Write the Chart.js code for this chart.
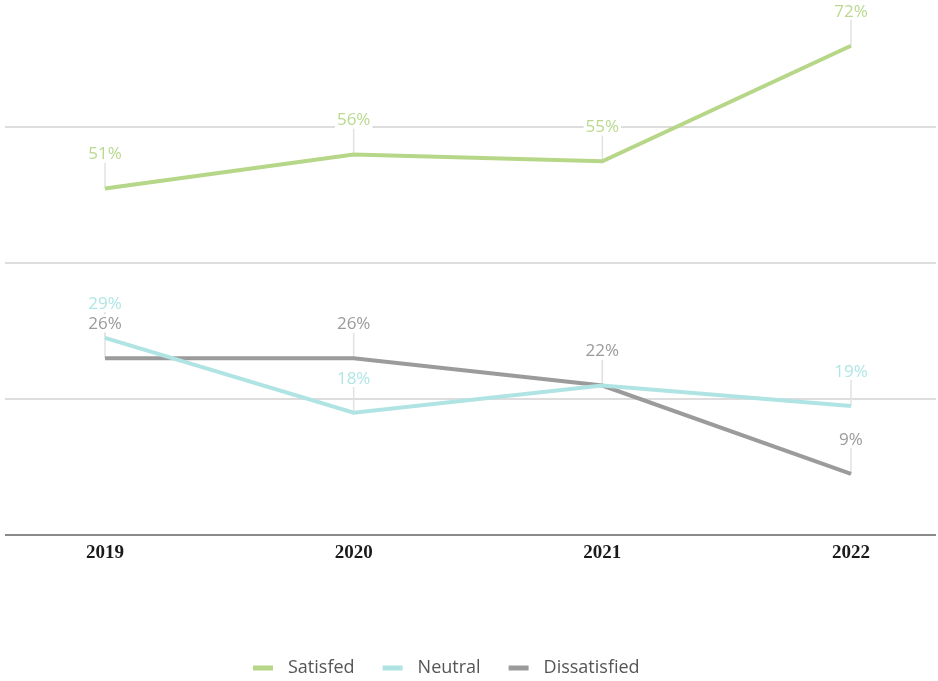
<!DOCTYPE html>
<html>
<head>
<meta charset="utf-8">
<script src="https://cdn.jsdelivr.net/npm/chart.js@4"></script>
<style>
  html, body { margin: 0; padding: 0; background: #fff; }
  #wrap { width: 938px; height: 681px; }
</style>
</head>
<body>
<div id="wrap"><canvas id="trend"></canvas></div>
<script>
const years = ['2019', '2020', '2021', '2022'];
const satisfied = [51, 56, 55, 72];
const neutral = [29, 18, 22, 19];
const dissatisfied = [26, 26, 22, 9];
const seriesNames = ['Satisfed', 'Neutral', 'Dissatisfied'];

// full-width horizontal rules every 20%, darker one at zero
const gridRules = {
    id: 'gridRules',
    beforeDatasetsDraw(chart) {
        const ctx = chart.ctx;
        const y = chart.scales.y;
        ctx.save();
        y.ticks.forEach(t => {
            if (t.value % 20 !== 0) return;
            const py = Math.round(y.getPixelForValue(t.value));
            ctx.beginPath();
            ctx.strokeStyle = t.value === 0 ? '#8a8a8a' : '#dddddd';
            ctx.lineWidth = 2;
            ctx.moveTo(5, py);
            ctx.lineTo(936, py);
            ctx.stroke();
        });
        // thin leader lines from each label down to its point
        chart.data.datasets.forEach((ds, i) => {
            chart.getDatasetMeta(i).data.forEach(pt => {
                ctx.beginPath();
                ctx.strokeStyle = '#e2e2e2';
                ctx.lineWidth = 1.5;
                ctx.moveTo(pt.x, pt.y - 26);
                ctx.lineTo(pt.x, pt.y);
                ctx.stroke();
            });
        });
        ctx.restore();
    }
};

const valueLabels = {
    id: 'valueLabels',
    afterDatasetsDraw(chart) {
        const ctx = chart.ctx;
        ctx.save();
        ctx.font = '17px "Open Sans"';
        ctx.textAlign = 'center';
        ctx.textBaseline = 'middle';
        chart.data.datasets.forEach((ds, i) => {
            chart.getDatasetMeta(i).data.forEach((pt, j) => {
                const txt = ds.data[j] + '%';
                const w = ctx.measureText(txt).width;
                const cy = pt.y - 35;
                ctx.fillStyle = '#ffffff';
                ctx.fillRect(pt.x - w / 2 - 2, cy - 9, w + 4, 18);
                ctx.fillStyle = ds.labelColor;
                ctx.fillText(txt, pt.x, cy + 1);
            });
        });
        ctx.restore();
    }
};

const bottomLegend = {
    id: 'bottomLegend',
    afterDraw(chart) {
        const ctx = chart.ctx;
        ctx.save();
        ctx.font = '18px "Open Sans"';
        ctx.textBaseline = 'middle';
        let x = 253;
        const y = 668;
        chart.data.datasets.forEach(ds => {
            ctx.fillStyle = ds.borderColor;
            ctx.fillRect(x, y - 2.5, 20, 5);
            x += 35;
            ctx.fillStyle = '#555555';
            ctx.fillText(ds.label, x, y);
            x += ctx.measureText(ds.label).width + 28;
        });
        ctx.restore();
    }
};

new Chart(document.getElementById('trend'), {
    type: 'line',
    data: {
        labels: years,
        datasets: [
            { label: seriesNames[0], data: satisfied, borderColor: '#b6d688', labelColor: '#b9d98f' },
            { label: seriesNames[1], data: neutral, borderColor: '#b0e4e4', labelColor: '#b0e6e6' },
            { label: seriesNames[2], data: dissatisfied, borderColor: '#9b9b9b', labelColor: '#9a9a9a' }
        ].map(d => Object.assign(d, {
            borderWidth: 4,
            tension: 0,
            pointRadius: 0,
            fill: false
        }))
    },
    options: {
        responsive: true,
        maintainAspectRatio: false,
        animation: false,
        layout: { padding: { left: 105, right: 87, top: 5, bottom: 0 } },
        plugins: {
            legend: { display: false },
            tooltip: { enabled: false }
        },
        scales: {
            x: {
                offset: false,
                grid: { display: false, drawTicks: false },
                border: { display: false },
                ticks: {
                    padding: 7,
                    color: '#1a1a1a',
                    font: { family: '"Liberation Serif"', size: 19, weight: 'bold' }
                },
                afterFit(scale) { scale.height = 146; }
            },
            y: {
                display: false,
                min: 0,
                max: 78,
                ticks: { stepSize: 20 }
            }
        }
    },
    plugins: [gridRules, valueLabels, bottomLegend]
});
</script>
</body>
</html>
